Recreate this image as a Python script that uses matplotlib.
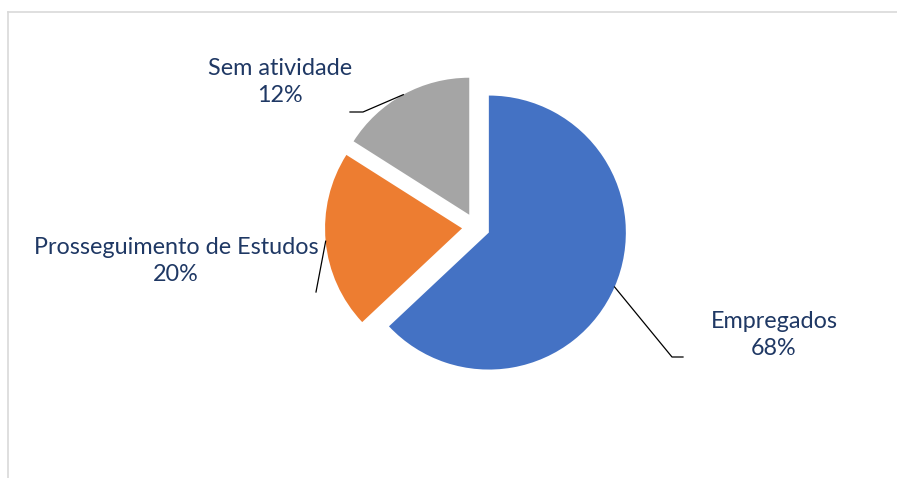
import numpy as np
import matplotlib
matplotlib.use("Agg")
import matplotlib.pyplot as plt
from matplotlib.lines import Line2D

# slice sizes as drawn, and the labels printed on the chart
categories = ["Empregados", "Prosseguimento de Estudos", "Sem atividade"]
values = [63, 21, 16]
pct_labels = ["68%", "20%", "12%"]
colors = ["#4472C4", "#ED7D31", "#A5A5A5"]

W, H = 897, 478
fig = plt.figure(figsize=(W / 100, H / 100), dpi=100)
ax = fig.add_axes([0, 0, 1, 1])

center = (476, H - 227)
radius = 137
wedges, _ = ax.pie(values, colors=colors, startangle=90, counterclock=False,
                   radius=radius, center=center, explode=[14, 14, 14],
                   wedgeprops=dict(linewidth=0))
ax.set_xlim(0, W)
ax.set_ylim(0, H)
ax.set_aspect("equal")
ax.axis("off")

# label text positions and leader line ends (pixels, y up)
label_pos = [(774, H - 335), (176, H - 261), (280, H - 82)]
leader_ends = [[(672, H - 357), (683, H - 357)],
               [(316, H - 292)],
               [(363, H - 112), (350, H - 112)]]

for w, cat, pct, pos, ends in zip(wedges, categories, pct_labels, label_pos, leader_ends):
    mid = np.deg2rad((w.theta1 + w.theta2) / 2)
    sx = w.center[0] + w.r * np.cos(mid)
    sy = w.center[1] + w.r * np.sin(mid)
    xs = [sx] + [p[0] for p in ends]
    ys = [sy] + [p[1] for p in ends]
    ax.plot(xs, ys, color="black", lw=0.9)
    ax.text(pos[0], pos[1], f"{cat}\n{pct}", ha="center", va="center",
            fontsize=16.8, family="Lato", color="#1F3864", linespacing=1.35)

# light frame of the chart area
fig.add_artist(Line2D([8 / W, 8 / W], [0, 1 - 12 / H], transform=fig.transFigure,
                      color="#D9D9D9", lw=1.2))
fig.add_artist(Line2D([8 / W, 1], [1 - 12 / H, 1 - 12 / H], transform=fig.transFigure,
                      color="#D9D9D9", lw=1.2))

fig.savefig("out.png", dpi=100)
